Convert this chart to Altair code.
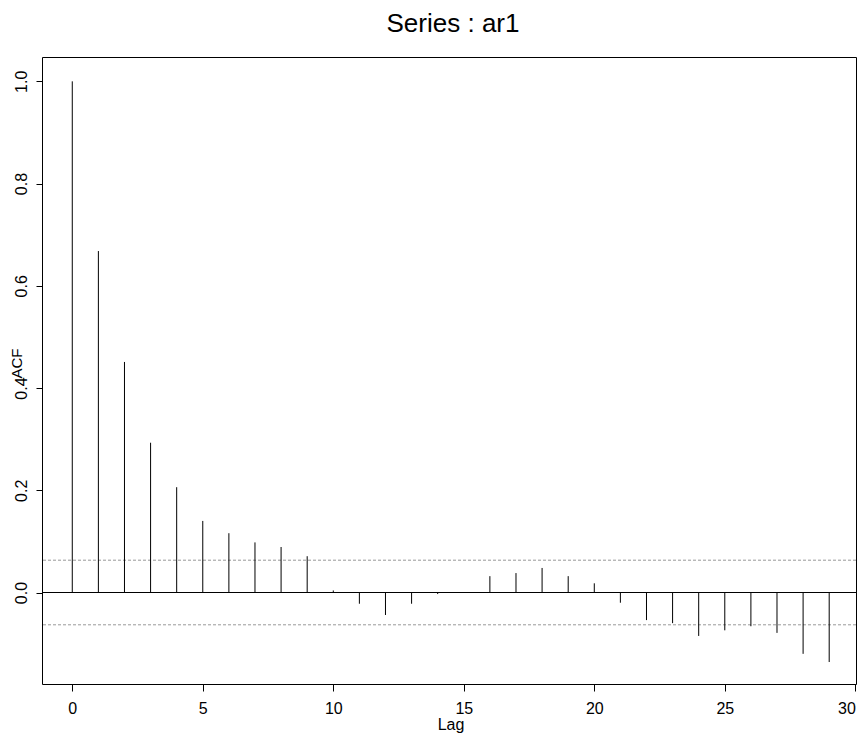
import altair as alt
import pandas as pd

# ---- data ----
lags = list(range(30))
acf_values = [1.0, 0.668, 0.451, 0.293, 0.206, 0.140, 0.116, 0.098, 0.089, 0.071,
              0.004, -0.022, -0.044, -0.022, -0.003, -0.001, 0.032, 0.038, 0.048, 0.032,
              0.018, -0.020, -0.054, -0.060, -0.085, -0.074, -0.066, -0.079, -0.120, -0.136]
conf_bounds = [0.0632, -0.0632]
x_ticks = [0, 5, 10, 15, 20, 25, 30]
y_ticks = [0.0, 0.2, 0.4, 0.6, 0.8, 1.0]
title_text = ["Series : ar1"]

df = pd.DataFrame({"lag": lags, "acf": acf_values})
df["base"] = 0.0
conf_df = pd.DataFrame({"c": conf_bounds})
title_df = pd.DataFrame({"t": title_text})

FONT = "Liberation Sans"
W, H = 814, 627

xscale = alt.Scale(domain=[-1.16, 30.027], nice=False, zero=False)
yscale = alt.Scale(domain=[-0.179, 1.0476], nice=False, zero=False)

x_axis = alt.Axis(values=x_ticks, format="d", title="Lag", grid=False, domain=False,
                  tickSize=7, tickColor="black", tickWidth=1,
                  labelFont=FONT, labelFontSize=16, labelColor="black",
                  labelBaseline="alphabetic", labelPadding=22, labelFlush=2,
                  titleFont=FONT, titleFontSize=16, titleFontWeight="normal",
                  titleColor="black", titleBaseline="alphabetic",
                  titleX=408.5, titleY=45, titleAlign="center")

y_axis = alt.Axis(values=y_ticks, format=".1f", title="ACF", grid=False, domain=False,
                  tickSize=6, tickColor="black", tickWidth=1,
                  labelFont=FONT, labelFontSize=16, labelColor="black",
                  labelAngle=270, labelAlign="center", labelBaseline="alphabetic",
                  labelPadding=9.5, labelFlush=False,
                  titleFont=FONT, titleFontSize=15, titleFontWeight="normal",
                  titleColor="black", titleAngle=270, titleBaseline="alphabetic",
                  titleAlign="center", titleX=-21, titleY=306)

bars = alt.Chart(df).mark_rule(color="black", strokeWidth=1).encode(
    x=alt.X("lag:Q", scale=xscale, axis=x_axis),
    y=alt.Y("acf:Q", scale=yscale, axis=y_axis),
    y2="base:Q",
)

zero = alt.Chart(df.head(1)).mark_rule(color="black", strokeWidth=1).encode(
    y=alt.Y("base:Q", scale=yscale),
)

conf = alt.Chart(conf_df).mark_rule(color="#999999", strokeWidth=1, strokeDash=[3, 2]).encode(
    y=alt.Y("c:Q", scale=yscale),
)

title = alt.Chart(title_df).mark_text(
    font=FONT, fontSize=26, color="black", align="center", baseline="alphabetic"
).encode(
    text="t:N",
    x=alt.value(411),
    y=alt.value(-25),
)

chart = alt.layer(conf, zero, bars, title).properties(
    width=W,
    height=H,
    background="white",
    autosize=alt.AutoSizeParams(type="none"),
    padding={"left": 34, "top": 49, "right": 1, "bottom": 50},
).configure_view(stroke="black", strokeWidth=1)

chart.save("out.html", embed_options={"renderer": "svg", "actions": False})
